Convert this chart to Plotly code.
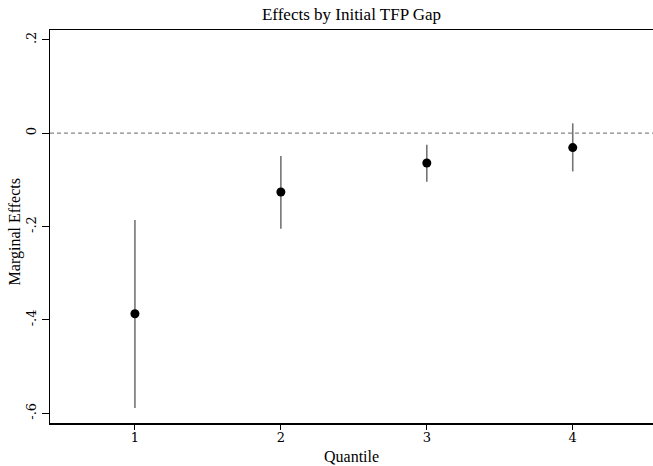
import plotly.graph_objects as go

quantiles = [1, 2, 3, 4]
effects = [-0.387, -0.126, -0.064, -0.031]
ci_upper = [-0.186, -0.049, -0.025, 0.021]
ci_lower = [-0.589, -0.205, -0.104, -0.082]
ytick_vals = [-0.6, -0.4, -0.2, 0, 0.2]
ytick_text = ["-.6", "-.4", "-.2", "0", ".2"]

err_plus = [u - e for u, e in zip(ci_upper, effects)]
err_minus = [e - l for e, l in zip(effects, ci_lower)]

FONT = "Liberation Serif"
TICKFONT = "DejaVu Serif"

fig = go.Figure()
fig.add_trace(go.Scatter(
    x=quantiles, y=effects, mode="markers",
    marker=dict(color="black", size=9),
    error_y=dict(type="data", symmetric=False, array=err_plus, arrayminus=err_minus,
                 color="#747474", thickness=1.6, width=0),
    showlegend=False, hoverinfo="skip",
))
fig.add_shape(type="line", xref="paper", yref="y", x0=0, x1=1, y0=0, y1=0,
              line=dict(color="#858585", width=1.2, dash="4px,3px"))

fig.add_annotation(text="Marginal Effects", xref="paper", yref="paper", x=0, y=0.485,
                   xanchor="center", yanchor="middle", xshift=-35, textangle=-90,
                   showarrow=False, font=dict(size=16, family=FONT, color="black"))
fig.add_annotation(text="Quantile", xref="paper", yref="paper", x=0.5, y=0,
                   xanchor="center", yanchor="middle", yshift=-33,
                   showarrow=False, font=dict(size=16, family=FONT, color="black"))

fig.update_layout(
    width=653, height=466,
    margin=dict(l=50, r=0, t=30, b=43),
    paper_bgcolor="white", plot_bgcolor="white",
    hovermode=False,
    font=dict(family=FONT, color="black"),
    title=dict(text="Effects by Initial TFP Gap", xref="paper", x=0.5, xanchor="center",
               y=0.970, yanchor="middle", font=dict(size=17, family=FONT)),
    xaxis=dict(range=[0.418, 4.55], tickvals=quantiles, ticktext=[str(q) for q in quantiles],
               showline=True, linecolor="black", linewidth=1.5, mirror=True,
               ticks="outside", ticklen=5, tickcolor="black", showgrid=False, zeroline=False,
               ticklabelstandoff=-3,
               tickfont=dict(size=13, family=TICKFONT)),
    yaxis=dict(range=[-0.621, 0.221], tickvals=ytick_vals, ticktext=ytick_text,
               tickangle=-90, showline=True, linecolor="black", linewidth=1.5,
               ticks="outside", ticklen=7, tickcolor="black", showgrid=False, zeroline=False,
               tickfont=dict(size=13, family=TICKFONT)),
)

fig.write_html("out.html", config={"displayModeBar": False, "staticPlot": True},
               post_script="document.body.style.margin='0';document.body.style.overflow='hidden';")
